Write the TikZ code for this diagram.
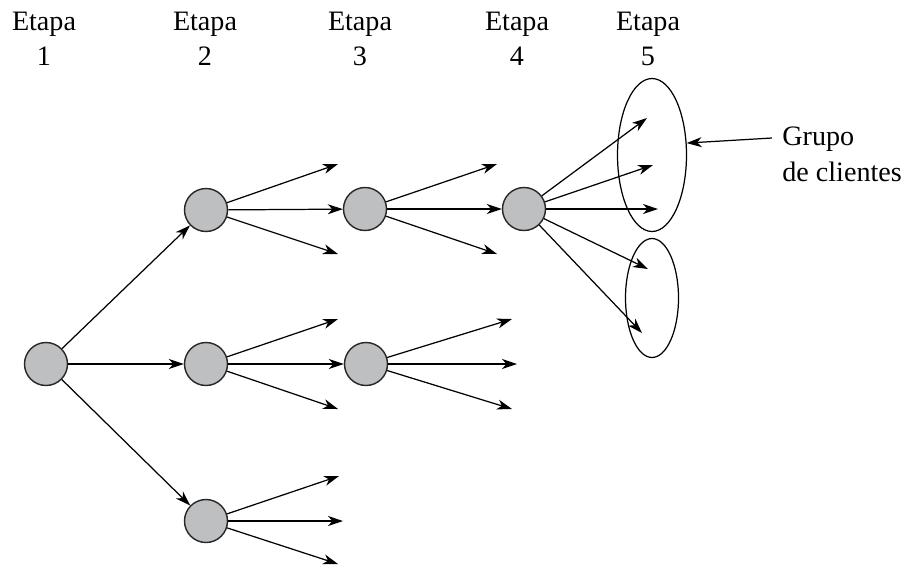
\documentclass[tikz,border=0pt]{standalone}
\usepackage{fontspec}
\setmainfont{Liberation Serif}
\usetikzlibrary{arrows.meta,positioning,shapes.geometric}
\definecolor{stategray}{RGB}{190,191,193}
\tikzset{
  statenode/.style ={circle,draw=black!85,fill=stategray,line width=0.8pt,
                     minimum size=0.86cm,inner sep=0pt},
  stagelabel/.style={align=center,inner sep=0pt,anchor=north,
                     font=\fontsize{16}{20}\selectfont},
  groupring/.style ={ellipse,draw,line width=0.7pt,inner sep=0pt},
  flow/.style      ={-{Stealth[length=3mm,width=2mm,inset=0.9mm]},line width=0.7pt},
}

\begin{document}
\begin{tikzpicture}[x=0.02cm,y=-0.02cm]
\useasboundingbox (0,0) rectangle (906,566);
% stages
\foreach \x [count=\i] in {44,205,360,517,648}
  \node[stagelabel] (etapa\i) at (\x,12) {Etapa\\\i};
% states
\node[statenode] (s1)  at (46,364)  {};
\node[statenode] (s2a) at (206,210) {};
\node[statenode] (s2b) at (206,364) {};
\node[statenode] (s2c) at (206,521) {};
\node[statenode] (s3a) at (365,209) {};
\node[statenode] (s3b) at (366,364) {};
\node[statenode] (s4)  at (524,209) {};
% customer groups
\node[groupring,minimum width=1.38cm,minimum height=3.06cm] (g1) at (652,155) {};
\node[groupring,minimum width=1.06cm,minimum height=2.38cm] (g2) at (652,298) {};
\node[inner sep=0pt,anchor=north west,align=left,font=\fontsize{16}{20}\selectfont]
  (grupo) at (782,127) {Grupo\\de clientes};
% loose ends
\coordinate (t2a1) at (338,164); \coordinate (t2a3) at (338,254);
\coordinate (t2b1) at (338,319); \coordinate (t2b3) at (338,409);
\coordinate (t2c1) at (339,476); \coordinate (t2c2) at (343,521); \coordinate (t2c3) at (338,564);
\coordinate (t3a1) at (497,164); \coordinate (t3a3) at (497,254);
\coordinate (t3b1) at (512,319); \coordinate (t3b2) at (517,364); \coordinate (t3b3) at (512,409);
\coordinate (t41) at (647,118); \coordinate (t42) at (653,165); \coordinate (t43) at (658,209);
\coordinate (t44) at (648,269); \coordinate (t45) at (642,333);
% branches
\foreach \n in {s2a,s2b,s2c} \draw[flow] (s1) -- (\n);
\foreach \a/\b in {s2a/t2a1,s2a/s3a,s2a/t2a3,s2b/t2b1,s2b/s3b,s2b/t2b3,
                   s2c/t2c1,s2c/t2c2,s2c/t2c3,s3a/t3a1,s3a/s4,s3a/t3a3,
                   s3b/t3b1,s3b/t3b2,s3b/t3b3}
  \draw[flow] (\a) -- (\b);
\foreach \n in {1,...,5} \draw[flow] (s4) -- (t4\n);
\draw[flow] ([shift={(-10,11)}]grupo.north west) -- (g1.19);
\end{tikzpicture}
\end{document}
